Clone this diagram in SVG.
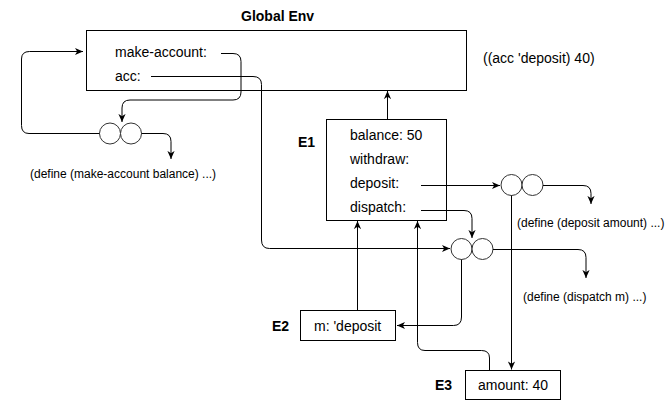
<svg xmlns="http://www.w3.org/2000/svg" width="669" height="402" viewBox="0 0 669 402">
<style>
.box{fill:#fff;stroke:#000;stroke-width:1}
.c{fill:#fff;stroke:#333;stroke-width:1}
.t{font-family:"Liberation Sans",Arial,sans-serif;font-size:14px;fill:#000}
.s{font-family:"Liberation Sans",Arial,sans-serif;font-size:12px;fill:#000}
.b{font-family:"Liberation Sans",Arial,sans-serif;font-size:14px;font-weight:bold;fill:#000}
.e{fill:none;stroke:#000;stroke-width:1;marker-end:url(#arr)}
.l{fill:none;stroke:#000;stroke-width:1}
</style>
<defs>
<marker id="arr" viewBox="0 0 10 10" refX="9" refY="5" markerWidth="9" markerHeight="9" orient="auto" markerUnits="userSpaceOnUse">
<path d="M0,1 L9,5 L0,9 L2.5,5 z" fill="#000"/>
</marker>
</defs>
<g id="global-env">
<rect class="box" x="86.5" y="30.5" width="380" height="60"/>
<text class="b" x="241" y="21">Global Env</text>
<text class="t" x="115" y="57">make-account:</text>
<text class="t" x="115" y="81">acc:</text>
</g>
<g id="E1">
<rect class="box" x="326.5" y="119.5" width="120" height="101"/>
<text class="b" x="298" y="147">E1</text>
<text class="t" x="350" y="140">balance: 50</text>
<text class="t" x="350" y="164">withdraw:</text>
<text class="t" x="350" y="188">deposit:</text>
<text class="t" x="350" y="212">dispatch:</text>
</g>
<g id="E2">
<rect class="box" x="300.5" y="310.5" width="95" height="30"/>
<text class="b" x="272" y="331">E2</text>
<text class="t" x="314" y="331">m: 'deposit</text>
</g>
<g id="E3">
<rect class="box" x="465.5" y="370.5" width="95" height="29"/>
<text class="b" x="435" y="390">E3</text>
<text class="t" x="478" y="390">amount: 40</text>
</g>
<g id="proc-make-account">
<circle class="c" cx="110" cy="133.5" r="10.5"/>
<circle class="c" cx="131" cy="133.5" r="10.5"/>
<text class="s" x="30" y="178">(define (make-account balance) ...)</text>
</g>
<g id="proc-deposit">
<circle class="c" cx="511.5" cy="185" r="10.5"/>
<circle class="c" cx="532.5" cy="185" r="10.5"/>
<text class="s" x="517" y="227">(define (deposit amount) ...)</text>
</g>
<g id="proc-dispatch">
<circle class="c" cx="461.5" cy="249" r="10.5"/>
<circle class="c" cx="482.5" cy="249" r="10.5"/>
<text class="s" x="523" y="301">(define (dispatch m) ...)</text>
</g>
<g id="expr">
<text class="t" x="483" y="63">((acc 'deposit) 40)</text>
</g>
<g id="connectors">
<path class="e" d="M221,53.5 H233 Q241,53.5 241,61.5 V92 Q241,100 233,100 H130 Q122,100 122,108 V122"/>
<path class="e" d="M99.5,133.5 H29 Q21.5,133.5 21.5,125.5 V59 Q21.5,51.5 29.5,51.5 H83"/>
<path class="e" d="M141.5,133.5 H163 Q171,133.5 171,141.5 V159"/>
<path class="e" d="M151,76.5 H253 Q261.5,76.5 261.5,84.5 V240 Q261.5,248.5 269.5,248.5 H450"/>
<path class="e" d="M387.5,119.5 V91"/>
<path class="e" d="M421,185.5 H500"/>
<path class="e" d="M543,185.5 H583 Q591,185.5 591,193.5 V204"/>
<path class="e" d="M511.5,195.5 V369.5"/>
<path class="e" d="M421,210.5 H464 Q472,210.5 472,218.5 V238"/>
<path class="e" d="M493,249.5 H578 Q586,249.5 586,257.5 V278"/>
<path class="e" d="M461.5,259.5 V317 Q461.5,325.5 453.5,325.5 H397"/>
<path class="e" d="M357.5,310.5 V221"/>
<path class="e" d="M489.5,370.5 V358 Q489.5,350.5 481.5,350.5 H425 Q417.5,350.5 417.5,342.5 V221"/>
</g>
</svg>
